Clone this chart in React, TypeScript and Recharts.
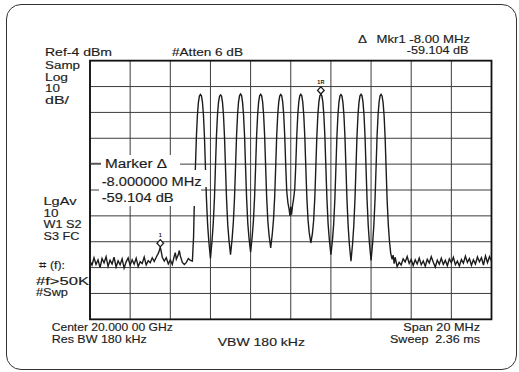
import React from 'react';
import { LineChart, Line, XAxis, YAxis, CartesianGrid, ReferenceArea, ReferenceDot } from 'recharts';

// Frequency offset from 20 GHz centre (MHz), level (dBm)
const freqTicksMHz = [-10, -8, -6, -4, -2, 0, 2, 4, 6, 8, 10];
const levelTicksDbm = [-104, -94, -84, -74, -64, -54, -44, -34, -24, -14, -4];

const leftFloor: [number, number][] = [
  [-10.0, -81.5], [-9.9, -83.0], [-9.8, -80.2], [-9.7, -82.8], [-9.6, -81.0], [-9.5, -84.0],
  [-9.4, -80.5], [-9.3, -82.2], [-9.2, -79.8], [-9.1, -83.5], [-9.0, -81.2], [-8.9, -82.6],
  [-8.8, -80.0], [-8.7, -83.8], [-8.6, -81.4], [-8.5, -82.9], [-8.4, -80.6], [-8.3, -84.2],
  [-8.2, -81.8], [-8.1, -80.3], [-8.0, -83.1], [-7.9, -81.0], [-7.8, -82.7], [-7.7, -80.4],
  [-7.6, -83.6], [-7.5, -81.7], [-7.4, -82.4], [-7.3, -79.9], [-7.2, -83.0], [-7.1, -81.3],
  [-7.0, -82.1], [-6.9, -80.2], [-6.8, -81.6], [-6.7, -80.0], [-6.6, -78.5], [-6.55, -77.5],
  [-6.5, -76.1], [-6.45, -77.8], [-6.4, -80.0], [-6.3, -81.5], [-6.2, -80.2], [-6.1, -82.6],
  [-6.0, -81.0], [-5.9, -82.8], [-5.8, -79.5], [-5.75, -78.2], [-5.7, -80.8], [-5.6, -79.0],
  [-5.55, -77.4], [-5.5, -79.5], [-5.4, -82.0], [-5.3, -82.8], [-5.2, -82.0], [-5.1, -80.5],
  [-5.0, -81.2], [-4.9, -81.5],
];

const carrierBand: [number, number][] = [
  [-4.84, -72.0], [-4.8, -58.0], [-4.75, -45.5], [-4.7, -33.5], [-4.65, -25.2], [-4.6, -20.1],
  [-4.55, -17.7], [-4.5, -17.1], [-4.45, -17.6], [-4.4, -19.9], [-4.35, -24.8], [-4.3, -33.2],
  [-4.25, -45.1], [-4.2, -57.3], [-4.14, -67.5], [-4.08, -74.0], [-4.0, -80.5],
  [-3.92, -73.5], [-3.86, -66.8], [-3.8, -57.0], [-3.75, -44.8], [-3.7, -33.0], [-3.65, -25.0],
  [-3.6, -20.2], [-3.55, -17.8], [-3.5, -17.2], [-3.45, -17.7], [-3.4, -20.0], [-3.35, -25.1],
  [-3.3, -33.4], [-3.25, -45.3], [-3.2, -57.2], [-3.14, -67.2], [-3.08, -73.2], [-3.0, -79.0],
  [-2.92, -72.8], [-2.86, -66.5], [-2.8, -56.8], [-2.75, -45.0], [-2.7, -33.1], [-2.65, -24.9],
  [-2.6, -19.9], [-2.55, -17.5], [-2.5, -16.9], [-2.45, -17.5], [-2.4, -20.1], [-2.35, -25.2],
  [-2.3, -33.3], [-2.25, -45.4], [-2.2, -57.0], [-2.14, -66.9], [-2.08, -72.5], [-2.0, -78.0],
  [-1.92, -72.0], [-1.86, -66.0], [-1.8, -56.5], [-1.75, -44.9], [-1.7, -33.0], [-1.65, -25.0],
  [-1.6, -20.0], [-1.55, -17.6], [-1.5, -17.0], [-1.45, -17.6], [-1.4, -20.0], [-1.35, -25.1],
  [-1.3, -33.2], [-1.25, -45.2], [-1.2, -56.8], [-1.14, -66.2], [-1.08, -71.5], [-1.0, -76.4],
  [-0.92, -71.0], [-0.86, -65.5], [-0.8, -56.6], [-0.75, -45.0], [-0.7, -33.2], [-0.65, -25.1],
  [-0.6, -20.1], [-0.55, -17.7], [-0.5, -17.1], [-0.45, -17.6], [-0.4, -20.0], [-0.35, -24.9],
  [-0.3, -33.0], [-0.25, -44.6], [-0.2, -54.5], [-0.14, -59.0], [-0.08, -61.5], [-0.04, -64.0],
  [0.0, -60.5], [0.04, -63.5], [0.09, -60.0], [0.14, -57.5], [0.2, -53.5], [0.25, -44.5],
  [0.3, -33.1], [0.35, -25.0], [0.4, -20.0], [0.45, -17.6], [0.5, -17.0], [0.55, -17.6],
  [0.6, -20.1], [0.65, -25.2], [0.7, -33.3], [0.75, -45.1], [0.8, -56.5], [0.86, -65.5],
  [0.92, -70.5], [1.0, -74.5],
  [1.08, -70.8], [1.14, -65.8], [1.2, -56.7], [1.25, -45.0], [1.3, -33.2], [1.35, -25.0],
  [1.4, -20.0], [1.45, -17.6], [1.5, -17.0], [1.55, -17.6], [1.6, -20.0], [1.65, -25.1],
  [1.7, -33.2], [1.75, -45.2], [1.8, -57.0], [1.86, -67.0], [1.92, -73.0], [2.0, -79.0],
  [2.08, -73.2], [2.14, -67.0], [2.2, -57.1], [2.25, -45.2], [2.3, -33.3], [2.35, -25.1],
  [2.4, -20.1], [2.45, -17.7], [2.5, -17.1], [2.55, -17.7], [2.6, -20.2], [2.65, -25.2],
  [2.7, -33.4], [2.75, -45.5], [2.8, -57.6], [2.86, -68.0], [2.92, -75.0], [3.0, -81.5],
  [3.08, -74.8], [3.14, -67.8], [3.2, -57.4], [3.25, -45.3], [3.3, -33.2], [3.35, -25.0],
  [3.4, -20.0], [3.45, -17.6], [3.5, -17.0], [3.55, -17.6], [3.6, -20.1], [3.65, -25.1],
  [3.7, -33.3], [3.75, -45.4], [3.8, -57.5], [3.86, -67.8], [3.92, -74.6], [4.0, -81.2],
  [4.08, -74.5], [4.14, -67.5], [4.2, -57.3], [4.25, -45.2], [4.3, -33.1], [4.35, -25.0],
  [4.4, -20.0], [4.45, -17.6], [4.5, -17.0], [4.55, -17.7], [4.6, -20.2], [4.65, -25.3],
  [4.7, -33.5], [4.75, -45.6], [4.8, -57.8], [4.86, -67.5], [4.92, -74.0], [4.98, -78.5],
];

const rightFloor: [number, number][] = [
  [5.05, -80.8], [5.1, -79.2], [5.15, -82.5], [5.2, -80.0], [5.3, -83.6], [5.4, -82.0],
  [5.5, -83.0], [5.6, -80.6], [5.7, -81.8], [5.8, -79.7], [5.9, -82.4], [6.0, -80.9],
  [6.1, -83.2], [6.2, -81.0], [6.3, -82.6], [6.4, -80.3], [6.5, -82.9], [6.6, -81.4],
  [6.7, -83.5], [6.8, -80.8], [6.9, -82.2], [7.0, -79.8], [7.1, -81.9], [7.2, -83.8],
  [7.3, -81.1], [7.4, -82.7], [7.5, -80.4], [7.6, -82.8], [7.7, -81.2], [7.8, -83.3],
  [7.9, -80.6], [8.0, -82.1], [8.1, -80.0], [8.2, -82.9], [8.3, -81.5], [8.4, -83.4],
  [8.5, -80.9], [8.6, -82.3], [8.7, -79.6], [8.8, -82.0], [8.9, -80.5], [9.0, -83.1],
  [9.1, -81.0], [9.2, -82.6], [9.3, -79.9], [9.4, -81.8], [9.5, -80.2], [9.6, -83.0],
  [9.7, -79.5], [9.8, -82.1], [9.9, -79.8], [10.0, -81.5],
];

const markers = [
  { id: '1', f: -6.5, dBm: -76.1 },
  { id: '1R', f: 1.5, dBm: -17.0 },
];

const trace = [...leftFloor, ...carrierBand, ...rightFloor].map(([f, d]) => ({ f, d }));

const INK = '#1c1c1c';
const FONT = '"Liberation Sans", Arial, sans-serif';

type Lbl = { t: string; x: number; y: number; w?: number; fs?: number; ff?: string };
const labels: Lbl[] = [
  { t: 'Ref-4 dBm', x: 45, y: 56, w: 67 },
  { t: '#Atten 6 dB', x: 172, y: 56, w: 71 },
  { t: 'Δ', x: 358, y: 43, w: 9 },
  { t: 'Mkr1 -8.00 MHz', x: 376.5, y: 43, w: 93.5 },
  { t: '-59.104 dB', x: 406.7, y: 54, w: 61.7 },
  { t: 'Samp', x: 45, y: 68.5, w: 35 },
  { t: 'Log', x: 45, y: 80.5, w: 23 },
  { t: '10', x: 45, y: 92, w: 15 },
  { t: 'dB/', x: 45, y: 103.5, w: 24 },
  { t: 'LgAv', x: 43.5, y: 205, w: 33 },
  { t: '10', x: 43.5, y: 216.5, w: 15 },
  { t: 'W1 S2', x: 43.5, y: 228, w: 38 },
  { t: 'S3 FC', x: 43.5, y: 240, w: 36 },
  { t: '⌗', x: 38.5, y: 269, w: 7, ff: '"DejaVu Sans", sans-serif' },
  { t: '(f):', x: 50, y: 269, w: 15 },
  { t: '#f>50K', x: 36, y: 284.5, w: 53 },
  { t: '#Swp', x: 36, y: 296, w: 32 },
  { t: 'Center 20.000 00 GHz', x: 51.7, y: 331, w: 121 },
  { t: 'Res BW 180 kHz', x: 51.7, y: 343.3, w: 95 },
  { t: 'VBW 180 kHz', x: 217.7, y: 346, w: 87.3 },
  { t: 'Span 20 MHz', x: 403.3, y: 331, w: 76.7 },
  { t: 'Sweep  2.36 ms', x: 390, y: 343.3, w: 90 },
  { t: 'Marker Δ', x: 105, y: 168, w: 62, fs: 12.5 },
  { t: '-8.000000 MHz', x: 101.7, y: 185.5, w: 100, fs: 12.5 },
  { t: '-59.104 dB', x: 101.7, y: 201.5, w: 72, fs: 12.5 },
];

const MarkerShape = (props: any) => {
  const { cx, cy, id } = props;
  if (cx == null || cy == null) return null;
  const top = cy - 7.5;
  return (
    <g>
      <path
        d={`M${cx},${top} L${cx + 3.3},${top + 3.6} L${cx},${top + 7.2} L${cx - 3.3},${top + 3.6} Z`}
        fill="#fff"
        stroke={INK}
        strokeWidth={1.3}
      />
      <text x={cx} y={top - 3} textAnchor="middle" fontSize={5.5} fontWeight="bold" fill={INK}
        fontFamily={FONT}>
        {id}
      </text>
    </g>
  );
};

export default function App() {
  return (
    <div style={{ position: 'absolute', left: 0, top: 0, width: 519, height: 372, background: '#fff' }}>
      <div
        style={{
          position: 'absolute', left: 6, top: 4, width: 509, height: 364,
          border: '1.4px solid #333', borderRadius: 15,
        }}
      />
      <div style={{ position: 'absolute', left: 0, top: 0 }}>
        <LineChart width={519} height={372} data={trace}
          margin={{ top: 60.7, right: 27.5, bottom: 52.7, left: 90 }}>
          <CartesianGrid stroke="#3c3c3c" strokeWidth={1} />
          <XAxis dataKey="f" type="number" domain={[-10, 10]} ticks={freqTicksMHz} hide allowDataOverflow />
          <YAxis type="number" domain={[-104, -4]} ticks={levelTicksDbm} hide allowDataOverflow />
          <ReferenceArea x1={-10} x2={10} y1={-104} y2={-4} fill="none" stroke="#111" strokeWidth={1.8}
            ifOverflow="visible" />
          <Line dataKey="d" type="linear" stroke={INK} strokeWidth={1.4} dot={false}
            isAnimationActive={false} />
          {markers.map((m) => (
            <ReferenceDot key={m.id} x={m.f} y={m.dBm} ifOverflow="visible"
              shape={(p: any) => <MarkerShape {...p} id={m.id} />} />
          ))}
        </LineChart>
      </div>
      <svg width={519} height={372} style={{ position: 'absolute', left: 0, top: 0, pointerEvents: 'none' }}>
        <rect x={101} y={155} width={79} height={15} fill="#fff" />
        <rect x={99} y={170} width={108} height={17} fill="#fff" />
        <rect x={99} y={187} width={102} height={19} fill="#fff" />
        <line x1={90} y1={163.3} x2={101} y2={163.3} stroke="#3c3c3c" />
        {labels.map((l, i) => (
          <text key={i} x={l.x} y={l.y} fontSize={l.fs ?? 11} fill={INK}
            stroke={INK} strokeWidth={0.15}
            fontFamily={l.ff ?? FONT}
            textLength={l.w} lengthAdjust="spacingAndGlyphs" style={{ whiteSpace: 'pre' }}>
            {l.t}
          </text>
        ))}
      </svg>
    </div>
  );
}
